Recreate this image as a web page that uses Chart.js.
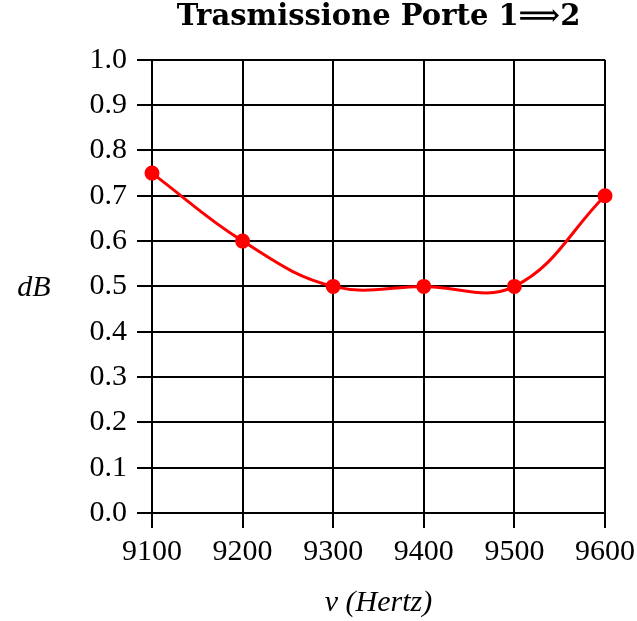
<!DOCTYPE html>
<html>
<head>
<meta charset="utf-8">
<script src="https://cdn.jsdelivr.net/npm/chart.js@4/dist/chart.umd.min.js"></script>
<style>
    html, body { margin: 0; padding: 0; background: #fff; }
    #wrap { width: 637px; height: 621px; }
</style>
</head>
<body>
<div id="wrap"><canvas id="transChart" width="637" height="621"></canvas></div>
<script>
// Frequenze (Hz) e trasmissione misurata
const frequenze = [9100, 9200, 9300, 9400, 9500, 9600];
const trasmissione = [0.75, 0.6, 0.5, 0.5, 0.5, 0.7];

const serif = "'Liberation Serif', 'DejaVu Serif', serif";

// Etichetta orizzontale per l'asse y
const yLabelPlugin = {
    id: 'yLabel',
    afterDraw(chart) {
        const ctx = chart.ctx;
        const area = chart.chartArea;
        ctx.save();
        ctx.font = 'italic 30px ' + serif;
        ctx.fillStyle = '#000';
        ctx.textAlign = 'center';
        ctx.textBaseline = 'middle';
        ctx.fillText('dB', 34, (area.top + area.bottom) / 2 + 2);
        ctx.restore();
    }
};

const punti = frequenze.map((f, i) => ({ x: f, y: trasmissione[i] }));

new Chart(document.getElementById('transChart'), {
    type: 'line',
    data: {
        datasets: [{
            data: punti,
            borderColor: 'rgb(255, 0, 0)',
            backgroundColor: 'rgb(255, 0, 0)',
            borderWidth: 3,
            pointRadius: 6,
            pointHoverRadius: 6,
            tension: 0.4,
            fill: false,
            clip: false
        }]
    },
    options: {
        responsive: false,
        animation: false,
        layout: { padding: { left: 0, right: 32, top: 0, bottom: 0 } },
        plugins: {
            legend: { display: false },
            tooltip: { enabled: false },
            title: {
                display: true,
                fullSize: false,
                text: 'Trasmissione Porte 1\u27F92',
                color: '#000',
                font: { family: "'DejaVu Serif', serif", size: 29, weight: 'bold', lineHeight: 1.2 },
                padding: { top: 0, bottom: 25 }
            }
        },
        scales: {
            x: {
                type: 'linear',
                min: 9100,
                max: 9600,
                afterFit(scale) {
                    scale.height = 108;
                    // l'ultima etichetta può sporgere nel margine destro
                    scale.paddingRight = 0;
                },
                ticks: {
                    stepSize: 100,
                    color: '#000',
                    padding: 6,
                    maxRotation: 0,
                    font: { family: serif, size: 30 },
                    callback: v => String(v)
                },
                grid: { color: '#000', lineWidth: 2, tickLength: 15, tickColor: '#000' },
                border: { color: '#000', width: 2 },
                title: {
                    display: true,
                    text: '\u03BD (Hertz)',
                    color: '#000',
                    font: { family: serif, size: 30, style: 'italic' },
                    padding: { top: 10, bottom: 0 }
                }
            },
            y: {
                min: 0,
                max: 1,
                afterFit(scale) { scale.width = 152; },
                ticks: {
                    stepSize: 0.1,
                    color: '#000',
                    padding: 10,
                    font: { family: serif, size: 30 },
                    callback: v => v.toFixed(1)
                },
                grid: { color: '#000', lineWidth: 2, tickLength: 15, tickColor: '#000' },
                border: { color: '#000', width: 2 }
            }
        }
    },
    plugins: [yLabelPlugin]
});
</script>
</body>
</html>
